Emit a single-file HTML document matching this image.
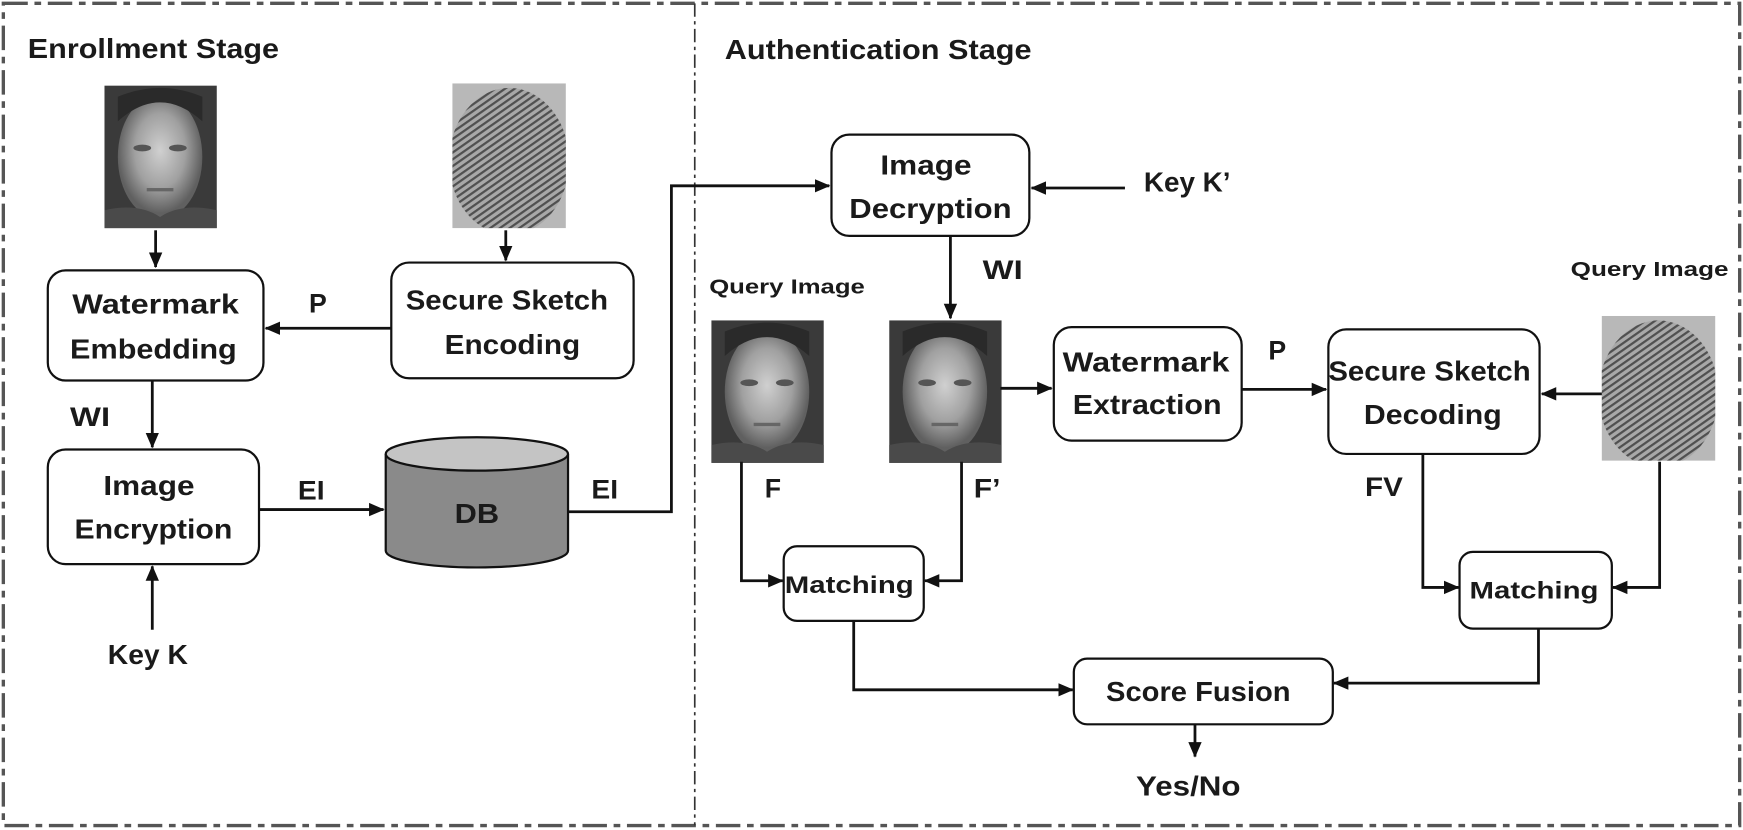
<!DOCTYPE html>
<html><head><meta charset="utf-8"><style>
html,body{margin:0;padding:0;background:#fff;}
svg{display:block;}
text{font-family:"Liberation Sans",sans-serif;font-weight:bold;fill:#1a1a1a;}
</style></head><body>
<svg width="1743" height="830" viewBox="0 0 1568 746" preserveAspectRatio="none" xmlns="http://www.w3.org/2000/svg">
<defs>
<marker id="a" markerWidth="14" markerHeight="14" refX="13" refY="7" orient="auto" markerUnits="userSpaceOnUse"><path d="M0,1 L14,7 L0,13 z" fill="#111"/></marker>
<radialGradient id="face" cx="50%" cy="45%" r="50%"><stop offset="0" stop-color="#d0d0d0"/><stop offset="0.6" stop-color="#a0a0a0"/><stop offset="1" stop-color="#606060"/></radialGradient>
<pattern id="fp" width="5" height="5" patternUnits="userSpaceOnUse" patternTransform="rotate(-35)"><rect width="5" height="5" fill="#a8a8a8"/><rect width="5" height="2" fill="#505050"/></pattern>
<clipPath id="fc"><rect width="102" height="130"/></clipPath>
<g id="faceimg">
<rect width="101" height="128" fill="#3a3a3a"/>
<ellipse cx="50" cy="64" rx="38" ry="56" fill="url(#face)"/>
<path d="M12,32 Q50,-2 88,32 L88,10 Q50,-6 12,10z" fill="#2a2a2a"/>
<ellipse cx="34" cy="56" rx="8" ry="3" fill="#555"/><ellipse cx="66" cy="56" rx="8" ry="3" fill="#555"/>
<rect x="38" y="92" width="24" height="3" fill="#666"/>
<path d="M0,128 V112 Q30,105 50,118 Q70,105 101,112 V128z" fill="#4a4a4a"/>
</g>
<g id="fpimg">
<rect width="102" height="130" fill="#b8b8b8"/>
<g clip-path="url(#fc)"><ellipse cx="51" cy="70" rx="54" ry="66" fill="url(#fp)"/></g>
</g>
</defs>
<g fill="none" stroke="#555" stroke-width="3" stroke-dasharray="22,6,6,6">
<rect x="3" y="3" width="1562" height="739"/>
</g>
<line x1="625" y1="3" x2="625" y2="742" stroke="#333" stroke-width="1.5" stroke-dasharray="12,4,3,4"/>
<text x="25" y="52" font-size="25" textLength="226" lengthAdjust="spacingAndGlyphs">Enrollment Stage</text>
<text x="652" y="53" font-size="25" textLength="276" lengthAdjust="spacingAndGlyphs">Authentication Stage</text>

<use href="#faceimg" x="94" y="77"/>
<use href="#fpimg" x="407" y="75"/>
<use href="#faceimg" x="640" y="288"/>
<use href="#faceimg" x="800" y="288"/>
<use href="#fpimg" x="1441" y="284"/>

<g fill="#fff" stroke="#111" stroke-width="2">
<rect x="43" y="243" width="194" height="99" rx="16"/>
<rect x="352" y="236" width="218" height="104" rx="16"/>
<rect x="43" y="404" width="190" height="103" rx="16"/>
<rect x="748" y="121" width="178" height="91" rx="16"/>
<rect x="948" y="294" width="169" height="102" rx="16"/>
<rect x="1195" y="296" width="190" height="112" rx="16"/>
<rect x="705" y="491" width="126" height="67" rx="12"/>
<rect x="1313" y="496" width="137" height="69" rx="12"/>
<rect x="966" y="592" width="233" height="59" rx="12"/>
</g>
<g stroke="#111" stroke-width="2">
<path d="M347,408 v87 a82,15 0 0 0 164,0 v-87" fill="#8a8a8a"/>
<ellipse cx="429" cy="408" rx="82" ry="15" fill="#c4c4c4"/>
</g>

<g stroke="#111" stroke-width="2.5" fill="none" marker-end="url(#a)">
<path d="M140,207 V240"/>
<path d="M455,207 V234"/>
<path d="M352,295 H239"/>
<path d="M137,342 V402"/>
<path d="M233,458 H345"/>
<path d="M137,566 V509"/>
<path d="M511,460 H604 V167 H746"/>
<path d="M1012,169 H928"/>
<path d="M855,212 V286"/>
<path d="M900,349 H946"/>
<path d="M1117,350 H1193"/>
<path d="M1441,354 H1387"/>
<path d="M667,415 V522 H704"/>
<path d="M865,415 V522 H832"/>
<path d="M1280,408 V528 H1312"/>
<path d="M1493,415 V528 H1451"/>
<path d="M768,558 V620 H965"/>
<path d="M1384,565 V614 H1200"/>
<path d="M1075,651 V680"/>
</g>

<g font-size="25" text-anchor="middle">
<text x="140" y="282" textLength="150" lengthAdjust="spacingAndGlyphs">Watermark</text>
<text x="138" y="322" textLength="150" lengthAdjust="spacingAndGlyphs">Embedding</text>
<text x="456" y="278" textLength="182" lengthAdjust="spacingAndGlyphs">Secure Sketch</text>
<text x="461" y="318" textLength="122" lengthAdjust="spacingAndGlyphs">Encoding</text>
<text x="134" y="445" textLength="82" lengthAdjust="spacingAndGlyphs">Image</text>
<text x="138" y="484" textLength="142" lengthAdjust="spacingAndGlyphs">Encryption</text>
<text x="429" y="470" textLength="40" lengthAdjust="spacingAndGlyphs">DB</text>
<text x="833" y="157" textLength="82" lengthAdjust="spacingAndGlyphs">Image</text>
<text x="837" y="196" textLength="146" lengthAdjust="spacingAndGlyphs">Decryption</text>
<text x="1031" y="334" textLength="150" lengthAdjust="spacingAndGlyphs">Watermark</text>
<text x="1032" y="372" textLength="134" lengthAdjust="spacingAndGlyphs">Extraction</text>
<text x="1286" y="342" textLength="182" lengthAdjust="spacingAndGlyphs">Secure Sketch</text>
<text x="1289" y="381" textLength="124" lengthAdjust="spacingAndGlyphs">Decoding</text>
<text x="1078" y="630" textLength="166" lengthAdjust="spacingAndGlyphs">Score Fusion</text>
<text x="1069" y="715" textLength="94" lengthAdjust="spacingAndGlyphs">Yes/No</text>
<text x="133" y="597" textLength="72" lengthAdjust="spacingAndGlyphs">Key K</text>
<text x="1068" y="172" textLength="78" lengthAdjust="spacingAndGlyphs">Key K’</text>
</g>
<g font-size="22" text-anchor="middle">
<text x="764" y="533" textLength="116" lengthAdjust="spacingAndGlyphs">Matching</text>
<text x="1380" y="538" textLength="116" lengthAdjust="spacingAndGlyphs">Matching</text>
</g>
<g font-size="24">
<text x="278" y="281">P</text>
<text x="1141" y="323">P</text>
<text x="63" y="383" textLength="36" lengthAdjust="spacingAndGlyphs">WI</text>
<text x="884" y="251" textLength="36" lengthAdjust="spacingAndGlyphs">WI</text>
<text x="268" y="449" textLength="24" lengthAdjust="spacingAndGlyphs">EI</text>
<text x="532" y="448" textLength="24" lengthAdjust="spacingAndGlyphs">EI</text>
<text x="688" y="447">F</text>
<text x="876" y="447" textLength="24" lengthAdjust="spacingAndGlyphs">F’</text>
<text x="1228" y="446" textLength="34" lengthAdjust="spacingAndGlyphs">FV</text>
</g>
<g font-size="18">
<text x="638" y="264" textLength="140" lengthAdjust="spacingAndGlyphs">Query Image</text>
<text x="1413" y="248" textLength="142" lengthAdjust="spacingAndGlyphs">Query Image</text>
</g>
</svg>
</body></html>
